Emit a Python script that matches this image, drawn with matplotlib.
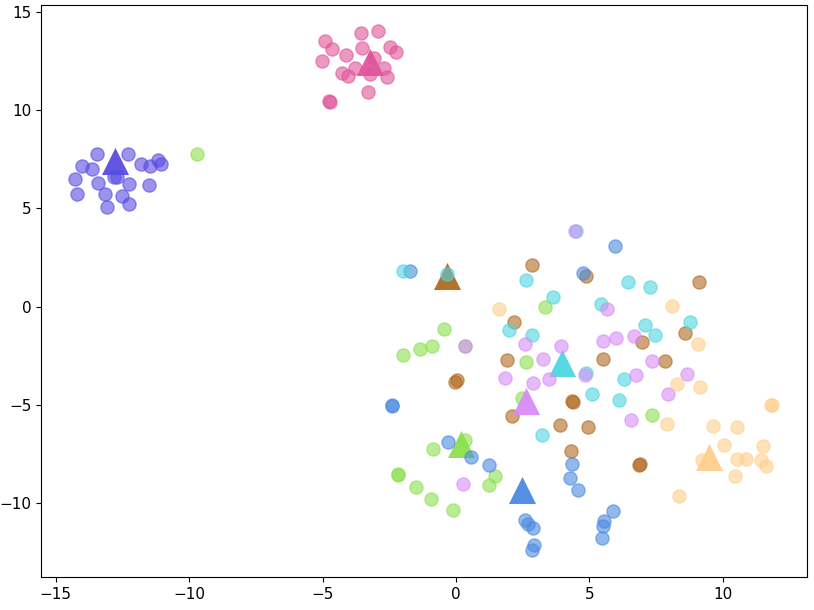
import numpy as np
import matplotlib
matplotlib.use("Agg")
import matplotlib.pyplot as plt

# -------------------------
# Cluster points
# -------------------------
indigo_x = [-13.47, -12.30, -14.00, -13.64, -14.28, -13.43, -12.81, -12.72, -12.25, -11.79,
            -11.46, -11.15, -11.05, -11.50, -14.22, -13.17, -12.50, -13.08, -12.25]
indigo_y = [7.77, 7.77, 7.14, 7.01, 6.50, 6.30, 6.58, 6.58, 6.25, 7.27,
            7.18, 7.48, 7.27, 6.18, 5.74, 5.74, 5.65, 5.08, 5.24]

pink_x = [-3.55, -2.91, -4.92, -4.63, -4.13, -5.01, -3.51, -3.07, -2.48, -2.26,
          -3.78, -4.26, -4.03, -3.23, -2.70, -2.57, -3.28, -4.76, -4.74]
pink_y = [13.94, 14.02, 13.51, 13.12, 12.80, 12.49, 13.14, 12.66, 13.22, 12.97,
          12.15, 11.90, 11.73, 11.85, 12.15, 11.70, 10.93, 10.45, 10.42]

brown_x = [2.84, 4.86, 9.10, 2.17, 1.91, 8.58, 6.98, 5.52, 7.83, 0.05,
           -0.04, 4.33, 4.38, 2.11, 3.90, 4.94, 4.30, 6.85, 6.88]
brown_y = [2.14, 1.54, 1.26, -0.80, -2.73, -1.37, -1.80, -2.66, -2.79, -3.72,
           -3.85, -4.79, -4.87, -5.59, -6.01, -6.13, -7.37, -8.04, -8.02]

green_x = [-9.71, 3.32, -0.45, -1.97, -1.35, -0.89, 2.61, 2.48, 0.34, -0.85,
           1.46, -2.18, -2.16, 1.24, -1.51, -0.95, -0.11, 7.35, 0.34]
green_y = [7.77, -0.02, -1.12, -2.46, -2.14, -2.02, -2.84, -4.65, -6.81, -7.25,
           -8.60, -8.55, -8.52, -9.08, -9.18, -9.79, -10.37, -5.53, -2.00]

blue_x = [-1.72, 4.77, 5.94, -2.41, -2.39, -0.30, 0.56, 1.24, 4.33, 4.27,
          4.57, 2.57, 2.71, 2.90, 2.92, 2.86, 5.88, 5.54, 5.51, 5.46]
blue_y = [1.80, 1.72, 3.07, -5.04, -5.02, -6.91, -7.65, -8.04, -8.01, -8.74,
          -9.32, -10.85, -11.05, -11.27, -12.15, -12.41, -10.42, -10.93, -11.15, -11.78]

cyan_x = [4.49, -1.97, -0.35, 2.61, 3.63, 5.45, 1.98, 2.86, 6.45, 7.25,
          8.76, 7.08, 7.45, 4.86, 6.29, 5.08, 6.10, 3.23]
cyan_y = [3.87, 1.80, 1.66, 1.34, 0.47, 0.13, -1.21, -1.44, 1.26, 0.98,
          -0.78, -0.92, -1.43, -3.38, -3.68, -4.43, -4.74, -6.55]

violet_x = [4.46, 5.67, 0.34, 2.57, 3.94, 3.27, 5.51, 5.98, 6.67, 7.33,
            4.83, 6.73, 8.66, 1.82, 2.88, 3.48, 7.95, 6.54, 0.27]
violet_y = [3.83, -0.12, -2.00, -1.93, -2.02, -2.65, -1.77, -1.59, -1.48, -2.79,
            -3.46, -3.49, -3.44, -3.62, -3.88, -3.67, -4.43, -5.79, -9.03]

peach_x = [1.61, 8.10, 9.06, 8.27, 9.13, 11.79, 11.82, 7.91, 9.64, 10.54,
           10.04, 11.50, 9.22, 10.54, 10.85, 11.41, 11.62, 10.44, 8.35]
peach_y = [-0.10, 0.02, -1.90, -3.94, -4.11, -5.03, -5.00, -5.97, -6.09, -6.15,
           -7.03, -7.08, -7.79, -7.75, -7.75, -7.79, -8.10, -8.64, -9.66]

# centroids (triangles)
centroids = {
    "indigo": (-12.77, 7.40),
    "pink": (-3.23, 12.46),
    "brown": (-0.35, 1.56),
    "green": (0.18, -6.98),
    "blue": (2.48, -9.33),
    "cyan": (3.96, -2.85),
    "violet": (2.61, -4.80),
    "peach": (9.48, -7.65),
}

clusters = [
    ("indigo", indigo_x, indigo_y, "#584ce0"),
    ("pink", pink_x, pink_y, "#e0559a"),
    ("brown", brown_x, brown_y, "#b06a20"),
    ("green", green_x, green_y, "#8ce050"),
    ("blue", blue_x, blue_y, "#4a8ae0"),
    ("cyan", cyan_x, cyan_y, "#4fd6e0"),
    ("violet", violet_x, violet_y, "#d88cf8"),
    ("peach", peach_x, peach_y, "#ffd08c"),
]

# -------------------------
# Plot
# -------------------------
fig = plt.figure(figsize=(8.14, 6.10), dpi=100)
ax = fig.add_axes([0.0504, 0.054, 0.941, 0.938])

for name, xs, ys, col in clusters:
    ax.scatter(xs, ys, s=90, color=col, alpha=0.6, linewidths=1)
    cx, cy = centroids[name]
    ax.scatter([cx], [cy], s=380, marker="^", color=col, alpha=0.95, linewidths=0)

ax.set_xlim(-15.55, 13.15)
ax.set_ylim(-13.77, 15.36)
ax.set_xticks([-15, -10, -5, 0, 5, 10])
ax.set_yticks([-10, -5, 0, 5, 10, 15])
ax.tick_params(labelsize=11)

fig.savefig("out.png", dpi=100)
plt.close(fig)
